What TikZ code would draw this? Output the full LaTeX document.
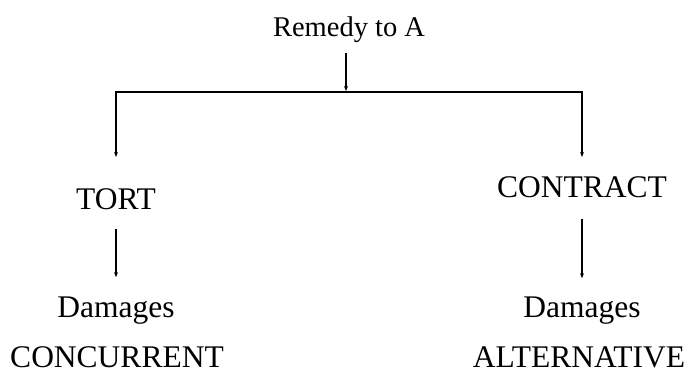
\documentclass[tikz,border=0pt]{standalone}
\usepackage{fontspec}
\setmainfont{Liberation Serif}
\newfontfamily\timesfont{Liberation Serif}
\usetikzlibrary{arrows.meta}
\begin{document}
\begin{tikzpicture}[x=1pt,y=-1pt,%
        every node/.style={inner sep=0pt,anchor=base,font=\timesfont\fontsize{31.5}{34}\selectfont},
        head/.style={font=\timesfont\fontsize{28.5}{32}\selectfont},
        arr/.style={line width=1.2pt,-{Stealth[length=5pt,width=4pt]}},
        bar/.style={line width=2.4pt,line cap=rect}]%
        \useasboundingbox (0,0) rectangle (688,374);
        \node[head] (rem) at (349,37) {Remedy to A};
        \coordinate (split) at (346,92); \coordinate (lc) at (116,92);
        \coordinate (rc) at (582,92);
        \node (tort) at (116,210) {TORT}; \node (con) at (582,198) {CONTRACT};
        \node (dl) at (116,317) {Damages}; \node (dr) at (582,317) {Damages};
        \node (cc) at (117,367) {CONCURRENT}; \node (alt) at (579,367) {ALTERNATIVE};
        \draw[arr,shorten <=10pt,shorten >=1pt] (rem.south -| split) -- (split);
        \draw[bar] (lc) -- (rc);
        \draw[arr,shorten >=32pt] (lc) -- (tort);
        \draw[arr,shorten >=20pt] (rc) -- (con);
        \draw[arr,shorten <=18pt,shorten >=19pt] (tort) -- (dl);
        \draw[arr,shorten <=20pt,shorten >=18pt] (con) -- (dr);
      \end{tikzpicture}
\end{document}
